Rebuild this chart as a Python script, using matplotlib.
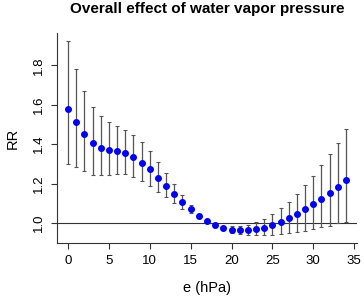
import numpy as np
import matplotlib
matplotlib.use('Agg')
import matplotlib.pyplot as plt

plt.rcParams['font.family'] = ['Liberation Sans', 'DejaVu Sans']

# vapour pressure (hPa) and relative risk with 95% CI
e_hpa = list(range(0, 35))
rr = [1.581, 1.513, 1.454, 1.408, 1.383, 1.369, 1.364, 1.354, 1.335, 1.307,
      1.273, 1.230, 1.188, 1.146, 1.107, 1.069, 1.036, 1.009, 0.987, 0.973,
      0.965, 0.962, 0.962, 0.968, 0.976, 0.988, 1.004, 1.023, 1.044, 1.069,
      1.096, 1.124, 1.154, 1.185, 1.216]
rr_low = [1.298, 1.286, 1.266, 1.245, 1.242, 1.244, 1.249, 1.247, 1.235, 1.215,
          1.190, 1.158, 1.130, 1.101, 1.073, 1.049, 1.026, 1.002, 0.979, 0.964,
          0.950, 0.946, 0.940, 0.937, 0.937, 0.939, 0.944, 0.947, 0.956, 0.961,
          0.969, 0.978, 0.986, 1.000, 1.003]
rr_high = [1.923, 1.783, 1.669, 1.590, 1.542, 1.515, 1.493, 1.473, 1.447, 1.410,
           1.364, 1.310, 1.254, 1.198, 1.142, 1.093, 1.046, 1.016, 0.995, 0.982,
           0.983, 0.985, 0.991, 1.003, 1.020, 1.044, 1.074, 1.107, 1.147, 1.193,
           1.240, 1.293, 1.351, 1.408, 1.476]

x = np.array(e_hpa)
y = np.array(rr)
lo = np.array(rr_low)
hi = np.array(rr_high)

fig = plt.figure(figsize=(3.64, 2.97), dpi=100)
ax = fig.add_axes([57/364, 54/297, 300/364, 210/297])

ax.axhline(1.0, color='#333333', lw=0.8, zorder=1)
ax.errorbar(x, y, yerr=[y - lo, hi - y], fmt='none', ecolor='#555555',
            elinewidth=0.9, capsize=1.2, capthick=0.8, zorder=2)
ax.plot(x, y, 'o', color='#0000ff', ms=4.0, mec='#0000ff', zorder=3)

ax.set_xlim(-1.36, 35.36)
ax.set_ylim(0.898, 1.965)
ax.set_xticks([0, 5, 10, 15, 20, 25, 30, 35])
ax.set_yticks([1.0, 1.2, 1.4, 1.6, 1.8])
ax.set_yticklabels(['1.0', '1.2', '1.4', '1.6', '1.8'], rotation=90, va='center')

for s in ['top', 'right']:
    ax.spines[s].set_visible(False)
for s in ['left', 'bottom']:
    ax.spines[s].set_color('#333333')
    ax.spines[s].set_linewidth(0.8)
ax.tick_params(direction='out', length=4, width=0.8, color='#333333',
               labelsize=9.5, pad=5)

ax.set_xlabel('e (hPa)', fontsize=10.5, labelpad=10)
ax.set_ylabel('RR', fontsize=10.5, labelpad=9)
fig.text(207/364, 1 - 9/297, 'Overall effect of water vapor pressure',
         ha='center', va='center', fontsize=11, fontweight='bold')

fig.savefig('out.png', dpi=100)
